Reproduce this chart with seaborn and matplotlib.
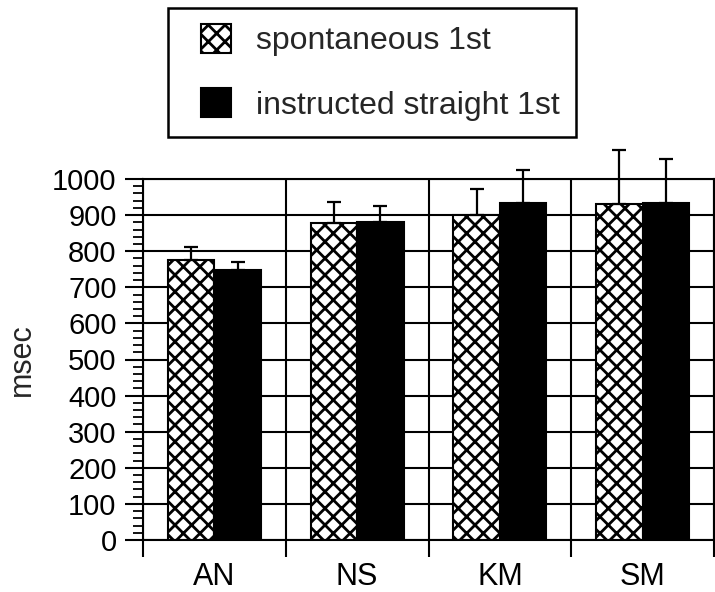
import numpy as np
import pandas as pd
import matplotlib
matplotlib.use("Agg")
import matplotlib.pyplot as plt
from matplotlib.patches import Patch, Rectangle
from matplotlib.legend_handler import HandlerPatch
from matplotlib.ticker import MultipleLocator, FixedLocator
import seaborn as sns

# Mean response times (msec) per subject, with upper error bars
subjects = ["AN", "NS", "KM", "SM"]
conditions = ["spontaneous 1st", "instructed straight 1st"]
spontaneous = [777, 878, 899, 931]
spontaneous_err = [36, 59, 72, 149]
instructed = [749, 880, 934, 934]
instructed_err = [22, 44, 90, 122]
y_ticks = list(range(0, 1001, 100))

df = pd.DataFrame({
    "subject": subjects * 2,
    "condition": [conditions[0]] * 4 + [conditions[1]] * 4,
    "msec": spontaneous + instructed,
    "err": spontaneous_err + instructed_err,
})

sns.set_style("ticks")
plt.rcParams["font.family"] = ["Liberation Sans", "DejaVu Sans"]
plt.rcParams["hatch.linewidth"] = 2.0
plt.rcParams["hatch.color"] = "black"

fig = plt.figure(figsize=(7.15, 5.92), dpi=100)
ax = fig.add_axes([143 / 715, 1 - 540 / 592, (714 - 143) / 715, (540 - 179) / 592])

palette = {conditions[0]: "white", conditions[1]: "black"}
sns.barplot(data=df, x="subject", y="msec", hue="condition", order=subjects,
            hue_order=conditions, palette=palette, width=0.65, errorbar=None,
            edgecolor="black", linewidth=1.5, saturation=1, legend=False, ax=ax)

# Cross-hatch the spontaneous bars and add one-sided error bars
n = len(subjects)
bars = ax.patches[:2 * n]
for i, p in enumerate(bars):
    if i < n:
        p.set_hatch("xx")
    p.set_zorder(2)
xs = [p.get_x() + p.get_width() / 2 for p in bars]
ys = [p.get_height() for p in bars]
errs = df["err"].tolist()
eb = ax.errorbar(xs, ys, yerr=[np.zeros(len(errs)), errs], fmt="none",
                 ecolor="black", elinewidth=1.6, capsize=5, capthick=1.6, zorder=3)
for art in list(eb.lines[1]) + list(eb.lines[2]):
    art.set_clip_on(False)

ax.set_xlim(-0.5, n - 0.5)
ax.set_ylim(0, 1000)
ax.set_yticks(y_ticks)
ax.yaxis.set_minor_locator(MultipleLocator(20))
ax.xaxis.set_minor_locator(FixedLocator(np.arange(-0.5, n, 1.0)))

ax.set_axisbelow(True)
ax.grid(True, axis="y", which="major", color="black", linewidth=1.5)
ax.grid(True, axis="x", which="minor", color="black", linewidth=1.5)

ax.tick_params(axis="y", which="major", length=13, width=1.5, pad=6,
               labelsize=21, colors="black")
ax.tick_params(axis="y", which="minor", length=7, width=1.3, colors="black")
ax.tick_params(axis="x", which="major", length=0, pad=16, labelsize=22, colors="black")
ax.tick_params(axis="x", which="minor", length=12, width=1.5, colors="black")

for s in ax.spines.values():
    s.set_color("black")
    s.set_linewidth(1.5)

ax.set_xlabel("")
ax.set_ylabel("msec", fontsize=22, labelpad=11)


class SquareSwatch(HandlerPatch):
    """Draws a square swatch aligned to the right of the handle box."""

    def create_artists(self, legend, orig_handle, xdescent, ydescent,
                       width, height, fontsize, trans):
        side = height
        r = Rectangle((width - side - xdescent, -ydescent), side, side,
                      facecolor=orig_handle.get_facecolor(),
                      edgecolor=orig_handle.get_edgecolor(),
                      hatch=orig_handle.get_hatch(),
                      linewidth=orig_handle.get_linewidth(),
                      transform=trans)
        return [r]


handles = [Patch(facecolor="white", edgecolor="black", hatch="xx", linewidth=1.5),
           Patch(facecolor="black", edgecolor="black", linewidth=1.5)]
fs = 23
leg = fig.legend(handles, conditions, loc="upper left",
                 bbox_to_anchor=(168 / 715, 1 - 8 / 592), bbox_transform=fig.transFigure,
                 frameon=True, fancybox=False, framealpha=1, edgecolor="black",
                 borderaxespad=0, borderpad=0.5, handlelength=1.46, handleheight=1.03,
                 handletextpad=0.8, labelspacing=0.99, fontsize=fs,
                 handler_map={Patch: SquareSwatch()})
leg.get_frame().set_linewidth(1.8)

fig.savefig("out.png", dpi=100)
